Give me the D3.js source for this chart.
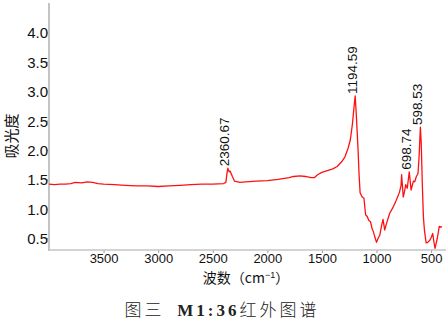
<!DOCTYPE html>
<html>
<head>
<meta charset="utf-8">
<script src="https://cdn.jsdelivr.net/npm/d3@7/dist/d3.min.js"></script>
<style>
  html, body { margin: 0; padding: 0; background: #fff; }
  svg { display: block; }
</style>
</head>
<body>
<svg id="chart" width="448" height="325"></svg>
<script>
// Wavenumber (cm^-1) and absorbance
const wavenumbers = [
  4000, 3950, 3900, 3850, 3800, 3760, 3700, 3650, 3600, 3550, 3500, 3400, 3300, 3200, 3100,
  3000, 2900, 2800, 2700, 2600, 2500, 2400, 2380, 2370, 2362, 2350, 2340, 2320, 2300, 2250,
  2200, 2100, 2000, 1900, 1800, 1760, 1700, 1650, 1600, 1570, 1540, 1500, 1450, 1400, 1360,
  1320, 1290, 1260, 1240, 1220, 1205, 1195, 1185, 1170, 1160, 1150, 1130, 1115, 1100, 1085,
  1070, 1055, 1040, 1030, 1015, 1000, 985, 970, 955, 940, 925, 910, 880, 850, 820,
  790, 775, 770, 762, 755, 745, 732, 718, 700, 690, 683, 672, 662, 650, 635,
  620, 610, 598, 590, 580, 570, 560, 545, 530, 510, 497, 485, 475, 464, 455,
  443, 432, 425, 410, 400
];
const absorbance = [
  1.42, 1.41, 1.42, 1.42, 1.43, 1.45, 1.44, 1.46, 1.45, 1.43, 1.42, 1.41, 1.40, 1.39, 1.39,
  1.38, 1.39, 1.40, 1.41, 1.42, 1.42, 1.43, 1.45, 1.60, 1.69, 1.63, 1.64, 1.55, 1.47, 1.45,
  1.46, 1.47, 1.48, 1.50, 1.53, 1.55, 1.56, 1.55, 1.53, 1.53, 1.58, 1.62, 1.65, 1.68, 1.72,
  1.80, 1.88, 2.03, 2.17, 2.45, 2.75, 2.92, 2.60, 2.05, 1.60, 1.27, 1.20, 1.18, 0.90, 0.87,
  0.80, 0.78, 0.66, 0.62, 0.52, 0.43, 0.50, 0.55, 0.70, 0.82, 0.64, 0.74, 0.92, 1.02, 1.14,
  1.28, 1.40, 1.58, 1.38, 1.20, 1.28, 1.41, 1.35, 1.63, 1.45, 1.32, 1.40, 1.47, 1.46, 1.55,
  1.60, 1.88, 2.39, 2.10, 1.40, 0.85, 0.62, 0.42, 0.43, 0.47, 0.52, 0.58, 0.45, 0.33, 0.40,
  0.50, 0.62, 0.70, 0.69, 0.70
];

// Labelled peaks
const peakLabels = ["2360.67", "1194.59", "698.74", "598.53"];
const peakWavenumbers = [2362, 1195, 700, 598];
const peakValues = [1.69, 2.92, 1.63, 2.39];

// Ticks
const xTicks = [3500, 3000, 2500, 2000, 1500, 1000, 500];
const yTicks = [0.5, 1.0, 1.5, 2.0, 2.5, 3.0, 3.5, 4.0];

const yAxisTitle = "吸光度";
const xAxisTitle = "波数（cm";
const captionA = "图三 ";
const captionB = "M1:36";
const captionC = "红外图谱";

const svg = d3.select("#chart");
const mLeft = 49, mRight = 442, mTop = 3, mBottom = 250;

const x = d3.scaleLinear().domain([4000, 400]).range([mLeft, mRight]);
const y = d3.scaleLinear().domain([0.3, 4.5]).range([mBottom, mTop]);

const axisColor = "#c4c4c4";
const sans = "'Liberation Sans', Arial, sans-serif";
const cjk = "'Noto Sans CJK SC', sans-serif";

// Y axis
const yAxis = svg.append("g")
  .attr("transform", `translate(${mLeft},0)`)
  .call(d3.axisLeft(y).tickValues(yTicks).tickFormat(d3.format(".1f")).tickSize(2).tickSizeOuter(0));
yAxis.select(".domain").remove();
yAxis.selectAll(".tick line").attr("stroke", "#888").attr("x1", 0).attr("x2", -2);
yAxis.selectAll(".tick text")
  .attr("x", -1).attr("dy", "0.36em")
  .attr("font-family", sans).attr("font-size", 15).attr("fill", "#111");

// X axis
const xAxis = svg.append("g")
  .attr("transform", `translate(0,${mBottom})`)
  .call(d3.axisBottom(x).tickValues(xTicks).tickFormat(d3.format("d")).tickSize(3).tickSizeOuter(0));
xAxis.select(".domain").remove();
xAxis.selectAll(".tick line").attr("stroke", "#999");
xAxis.selectAll(".tick text")
  .attr("y", 4).attr("dy", "0.71em")
  .attr("font-family", sans).attr("font-size", 13).attr("fill", "#111");

// Axis lines
svg.append("line")
  .attr("x1", mLeft).attr("x2", mLeft).attr("y1", mTop).attr("y2", mBottom + 1)
  .attr("stroke", axisColor).attr("stroke-width", 2);
svg.append("line")
  .attr("x1", mLeft - 1).attr("x2", 446).attr("y1", mBottom).attr("y2", mBottom)
  .attr("stroke", axisColor).attr("stroke-width", 1.5);

// Spectrum
const data = wavenumbers.map((w, i) => ({ w, a: absorbance[i] }));
svg.append("path")
  .datum(data)
  .attr("fill", "none")
  .attr("stroke", "#ff1010")
  .attr("stroke-width", 1.3)
  .attr("stroke-linejoin", "round")
  .attr("d", d3.line().x(d => x(d.w)).y(d => y(d.a)));

// Peak labels
peakLabels.forEach((lbl, i) => {
  const px = x(peakWavenumbers[i]) + 1.5;
  const py = y(peakValues[i]) - 2;
  svg.append("text")
    .attr("transform", `translate(${px},${py}) rotate(-90)`)
    .attr("text-anchor", "start")
    .attr("font-family", sans)
    .attr("font-size", 13.5)
    .attr("fill", "#111")
    .text(lbl);
});

// Y axis title
svg.append("text")
  .attr("transform", `translate(17,136) rotate(-90)`)
  .attr("text-anchor", "middle")
  .attr("font-family", cjk)
  .attr("font-size", 15)
  .attr("fill", "#111")
  .text(yAxisTitle);

// X axis title
const xt = svg.append("text")
  .attr("x", 246).attr("y", 283)
  .attr("text-anchor", "middle")
  .attr("font-family", cjk)
  .attr("font-size", 14)
  .attr("fill", "#111");
xt.append("tspan").text(xAxisTitle);
xt.append("tspan").attr("font-size", 9).attr("dy", -5).attr("font-family", sans).text("−1");
xt.append("tspan").attr("dy", 5).text("）");

// Caption
const cap = svg.append("text")
  .attr("x", 222).attr("y", 316)
  .attr("text-anchor", "middle")
  .attr("font-size", 17)
  .attr("letter-spacing", 3)
  .attr("fill", "#222");
cap.append("tspan").attr("font-family", "'Noto Sans CJK SC', serif").attr("font-weight", 300).text(captionA);
cap.append("tspan").attr("font-family", "'Liberation Serif', 'Times New Roman', serif").attr("font-weight", "bold").attr("dx", 6).text(captionB);
cap.append("tspan").attr("font-family", "'Noto Sans CJK SC', serif").attr("font-weight", 300).text(captionC);
</script>
</body>
</html>
